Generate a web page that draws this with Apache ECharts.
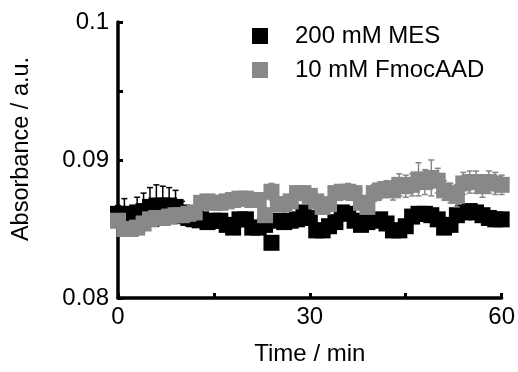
<!DOCTYPE html>
<html><head><meta charset="utf-8">
<script src="https://cdn.jsdelivr.net/npm/echarts@6/dist/echarts.min.js"></script>
<style>html,body{margin:0;padding:0;background:#fff}#c{width:518px;height:372px}</style>
</head><body><div id="c"></div>
<script>
var times = [0,1,2,3,4,5,6,7,8,9,10,11,12,13,14,15,16,17,18,19,20,21,22,23,24,25,26,27,28,29,30,
31,32,33,34,35,36,37,38,39,40,41,42,43,44,45,46,47,48,49,50,51,52,53,54,55,56,57,58,59,60];
var mesValues = [0.0861,0.0861,0.0856,0.0862,0.0863,0.0866,0.0867,0.0867,0.0867,0.0866,
0.0862,0.0858,0.0857,0.0857,0.0855,0.0856,0.0856,0.0853,0.0851,0.0857,
0.0857,0.0851,0.0851,0.0853,0.0840,0.0856,0.0855,0.0856,0.0857,0.0862,
0.0858,0.0849,0.0849,0.0852,0.0855,0.0862,0.0861,0.0856,0.0853,0.0855,
0.0856,0.0857,0.0854,0.0849,0.0849,0.0852,0.0859,0.0861,0.0861,0.0860,
0.0857,0.0851,0.0853,0.0860,0.0862,0.0863,0.0862,0.0860,0.0858,0.0857,0.0857];
var mesErrors = [0.0006,0.0011,0.0010,0.0011,0.0013,0.0014,0.0015,0.0014,0.0013,0.0012,
0.0008,0.0006,0.0006,0.0006,0.0003,0.0003,0.0003,0.0003,0.0003,0.0003,
0.0003,0.0003,0.0003,0.0003,0.0003,0.0003,0.0003,0.0003,0.0003,0.0003,
0.0003,0.0003,0.0003,0.0003,0.0003,0.0003,0.0003,0.0003,0.0003,0.0003,
0.0003,0.0003,0.0003,0.0003,0.0003,0.0003,0.0003,0.0003,0.0003,0.0003,
0.0003,0.0003,0.0003,0.0003,0.0003,0.0003,0.0003,0.0003,0.0003,0.0003,0.0003];
var fmocValues = [0.0856,0.0850,0.0850,0.0851,0.0854,0.0857,0.0858,0.0858,0.0859,0.0860,
0.0860,0.0861,0.0862,0.0869,0.0870,0.0869,0.0869,0.0870,0.0871,0.0872,
0.0872,0.0871,0.0871,0.0860,0.0877,0.0868,0.0868,0.0870,0.0876,0.0876,
0.0874,0.0870,0.0866,0.0868,0.0876,0.0877,0.0877,0.0876,0.0869,0.0866,
0.0876,0.0878,0.0879,0.0878,0.0882,0.0881,0.0882,0.0886,0.0884,0.0887,
0.0885,0.0878,0.0876,0.0874,0.0883,0.0884,0.0884,0.0881,0.0884,0.0883,0.0882];
var fmocErrors = [0.0005,0.0005,0.0005,0.0005,0.0005,0.0005,0.0005,0.0005,0.0005,0.0005,
0.0005,0.0005,0.0005,0.0005,0.0005,0.0005,0.0005,0.0005,0.0005,0.0005,
0.0005,0.0005,0.0005,0.0005,0.0006,0.0005,0.0005,0.0005,0.0005,0.0005,
0.0005,0.0005,0.0005,0.0005,0.0005,0.0005,0.0006,0.0005,0.0005,0.0005,
0.0006,0.0006,0.0006,0.0007,0.0008,0.0008,0.0008,0.0012,0.0009,0.0013,
0.0009,0.0007,0.0007,0.0008,0.0008,0.0008,0.0008,0.0008,0.0008,0.0008,0.0007];
var xTickLabels = ['0','30','60'];
var yTickLabels = ['0.08','0.09','0.1'];
var seriesNames = ['200 mM MES','10 mM FmocAAD'];
var colors = ['#000000','#888888'];

function errData(vals, errs){
  return times.map(function(t,i){return [t, vals[i]-errs[i], vals[i]+errs[i]];});
}
function errRender(color){
  return function(params, api){
    var lo = api.coord([api.value(0), api.value(1)]);
    var hi = api.coord([api.value(0), api.value(2)]);
    var w = 3;
    var st = {stroke: color, lineWidth: 1.5};
    return {type:'group', children:[
      {type:'line', shape:{x1:lo[0],y1:lo[1],x2:hi[0],y2:hi[1]}, style:st},
      {type:'line', shape:{x1:lo[0]-w,y1:lo[1],x2:lo[0]+w,y2:lo[1]}, style:st},
      {type:'line', shape:{x1:hi[0]-w,y1:hi[1],x2:hi[0]+w,y2:hi[1]}, style:st}
    ]};
  };
}
var ff = '"Liberation Sans", Arial, sans-serif';
var chart = echarts.init(document.getElementById('c'), null, {renderer:'canvas'});
chart.setOption({
  animation:false,
  backgroundColor:'#fff',
  grid:{left:118, right:16, top:22, bottom:74},
  legend:{
    orient:'vertical', left:247, top:19, itemWidth:16, itemHeight:16, itemGap:10,
    icon:'rect',
    textStyle:{fontFamily:ff, fontSize:24, color:'#000', padding:[0,0,0,22]},
    data:seriesNames
  },
  xAxis:{
    type:'value', min:0, max:60, interval:15,
    name:'Time / min', nameLocation:'middle', nameGap:44,
    nameTextStyle:{fontFamily:ff, fontSize:24, color:'#000'},
    axisLine:{lineStyle:{color:'#000', width:3.5}},
    axisTick:{inside:true, length:5, lineStyle:{color:'#000', width:3}},
    splitLine:{show:false},
    axisLabel:{fontFamily:ff, fontSize:24, color:'#000', margin:7,
      formatter:function(v){var s=String(Math.round(v)); return xTickLabels.indexOf(s)>=0?s:'';}}
  },
  yAxis:{
    type:'value', min:0.08, max:0.1, interval:0.005,
    name:'Absorbance / a.u.', nameLocation:'middle', nameGap:84, nameRotate:90,
    nameTextStyle:{fontFamily:ff, fontSize:23.5, color:'#000', padding:[0,0,0,22]},
    axisLine:{show:true, lineStyle:{color:'#000', width:3.5}},
    axisTick:{show:true, inside:true, length:5, lineStyle:{color:'#000', width:3}},
    splitLine:{show:false},
    axisLabel:{fontFamily:ff, fontSize:24, color:'#000', margin:9,
      formatter:function(v){var s=String(parseFloat(v.toFixed(4))); return yTickLabels.indexOf(s)>=0?s:'';}}
  },
  series:[
    {type:'custom', name:'mesErr', renderItem:errRender(colors[0]), data:errData(mesValues,mesErrors), z:1, silent:true},
    {type:'scatter', name:seriesNames[0], symbol:'rect', symbolSize:16, itemStyle:{color:colors[0], opacity:1},
      data:times.map(function(t,i){return [t, mesValues[i]];}), z:2},
    {type:'custom', name:'fmocErr', renderItem:errRender(colors[1]), data:errData(fmocValues,fmocErrors), z:3, silent:true},
    {type:'scatter', name:seriesNames[1], symbol:'rect', symbolSize:16, itemStyle:{color:colors[1], opacity:1},
      data:times.map(function(t,i){return [t, fmocValues[i]];}), z:4}
  ]
});
</script></body></html>
